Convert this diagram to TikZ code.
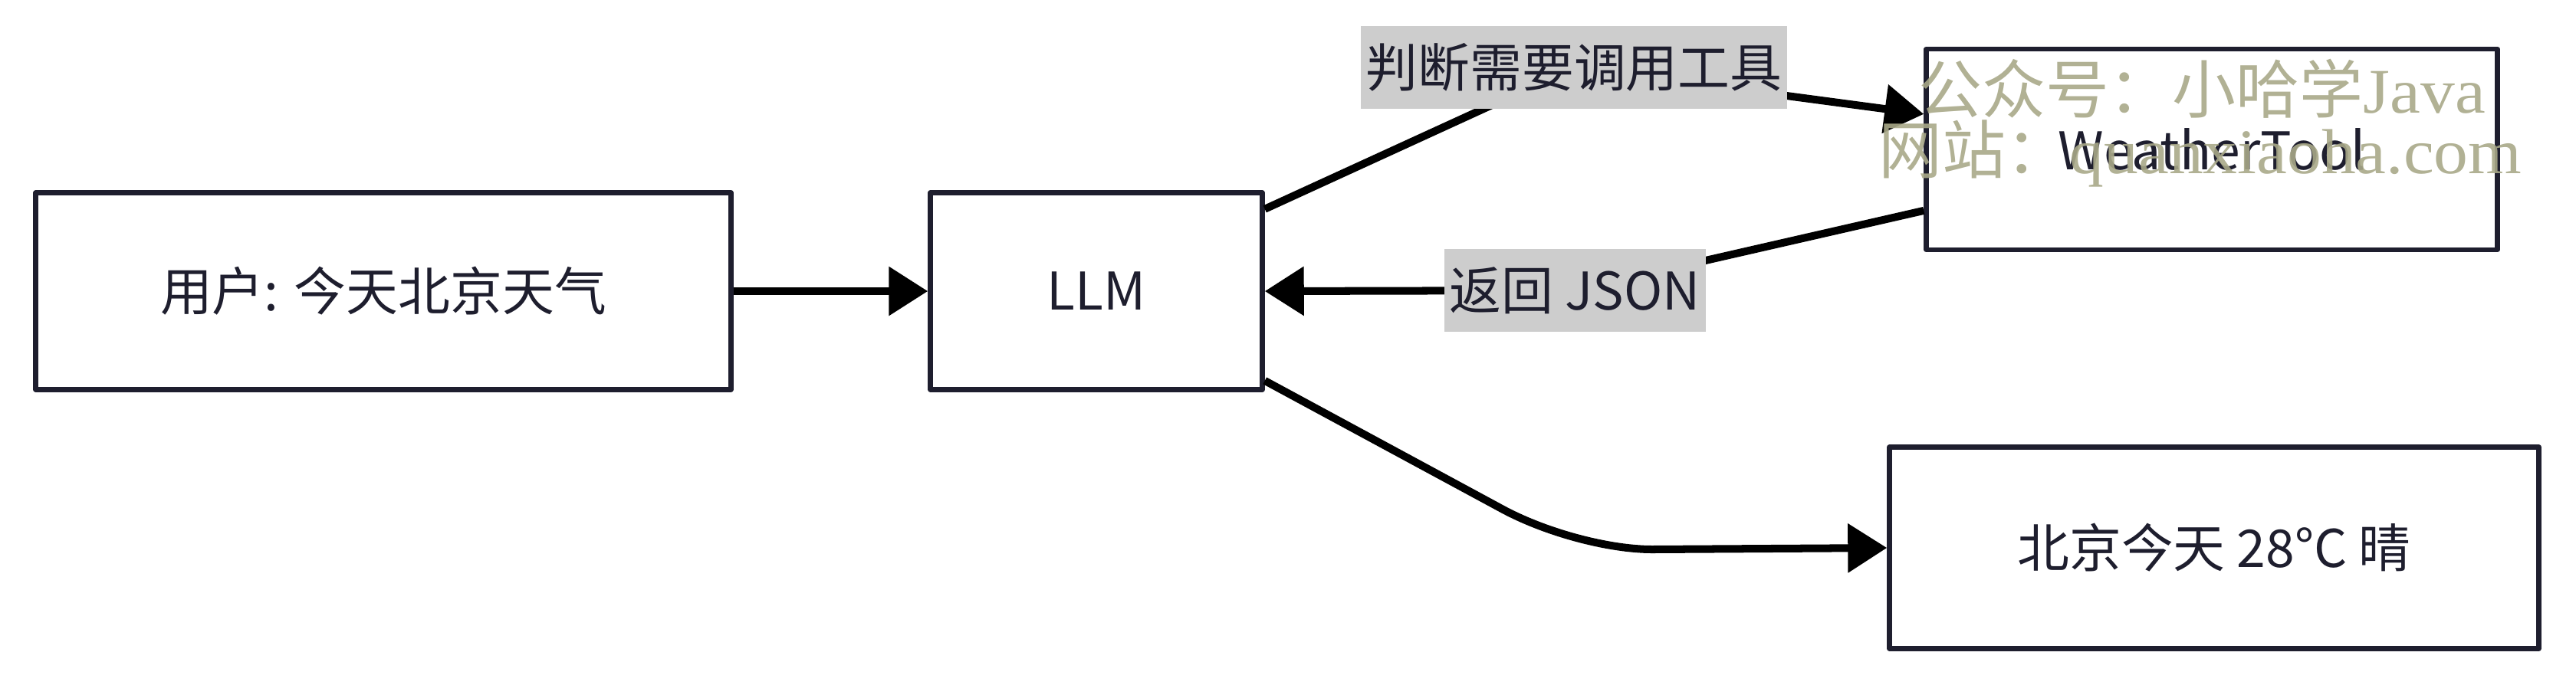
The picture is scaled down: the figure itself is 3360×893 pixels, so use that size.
\documentclass[tikz,border=0pt]{standalone}
\usepackage{fontspec}
\setmainfont{Noto Sans CJK SC}
\newfontfamily\marklatin{Liberation Serif}[FakeStretch=1.08]
\usetikzlibrary{arrows.meta}
\definecolor{ink}{HTML}{1E1E2E}
\definecolor{taggray}{HTML}{CDCDCD}
\definecolor{markolive}{HTML}{A8A888}

\begin{document}
\begin{tikzpicture}[x=0.1mm,y=-0.1mm,line join=round,
  box/.style={draw=ink,line width=1.85pt,text=ink,inner sep=0pt,font=\fontsize{19.3}{23}\selectfont},
  tag/.style={fill=taggray,text=ink,inner xsep=0.7mm,inner ysep=0pt,minimum height=10.8mm,font=\fontsize{19.3}{23}\selectfont},
  flow/.style={line width=2.85pt,-{Triangle[length=5.1mm,width=6.2mm]}},
  wmark/.style={text=markolive,opacity=0.9,inner sep=0pt,font=\fontsize{23.6}{28}\selectfont}]
  \useasboundingbox (0,0) rectangle (3360,893);
  % boxes
  \node[box,minimum width=90.7mm,minimum height=25.7mm] (user) at (500,380) {用户: 今天北京天气};
  \node[box,minimum width=43.3mm,minimum height=25.7mm] (llm) at (1430,380) {LLM};
  \node[box,minimum width=74.5mm,minimum height=26.2mm] (tool) at (2885,195) {WeatherTool};
  \node[box,minimum width=84.7mm,minimum height=26.3mm] (answer) at (2888,715) {北京今天 28°C 晴};
  % bends
  \coordinate (askbend) at (2053,88);
  \coordinate (backbend) at (2054,379);
  \coordinate (dropend) at (1957,663);
  \coordinate (flat) at (2155,717);
  % connectors
  \draw[flow] (user.east) -- (llm.west);
  \draw[flow] (llm.26) -- (askbend) -- (tool.173);
  \draw[flow] (tool.192) -- (backbend) -- (llm.east);
  \draw[flow] (llm.-28) -- (dropend) .. controls (2017,696) and (2100,717) .. (flat) -- (answer.west);
  % labels
  \node[tag] (ask) at (askbend) {判断需要调用工具};
  \node[tag] (back) at (backbend) {返回 JSON};
  % watermark
  \node[wmark] (mark1) at (2872,116) {公众号：小哈学{\marklatin Java}};
  \node[wmark] (mark2) at (2870,200) {网站：{\marklatin quanxiaoha.com}};
\end{tikzpicture}
\end{document}
